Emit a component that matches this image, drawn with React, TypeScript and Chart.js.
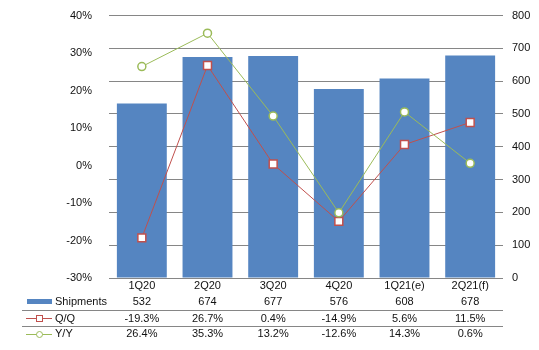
import React, { useEffect, useRef } from 'react';
import { Chart, registerables } from 'chart.js';

Chart.register(...registerables);

const categories = ['1Q20', '2Q20', '3Q20', '4Q20', '1Q21(e)', '2Q21(f)'];
const shipments = [532, 674, 677, 576, 608, 678];
const qoq = [-19.3, 26.7, 0.4, -14.9, 5.6, 11.5];
const yoy = [26.4, 35.3, 13.2, -12.6, 14.3, 0.6];
const shipmentLabels = ['532', '674', '677', '576', '608', '678'];
const qoqLabels = ['-19.3%', '26.7%', '0.4%', '-14.9%', '5.6%', '11.5%'];
const yoyLabels = ['26.4%', '35.3%', '13.2%', '-12.6%', '14.3%', '0.6%'];

const BLUE = '#5585C1';
const RED = '#C0504D';
const GREEN = '#9BBB59';
const GRID = '#868686';
const TEXT = '#111111';
const FONT = '11px "Liberation Sans", Arial, sans-serif';

const tablePlugin = {
  id: 'dataTable',
  afterDraw(chart: any) {
    const ctx = chart.ctx as CanvasRenderingContext2D;
    const x = chart.scales.x;
    ctx.save();
    ctx.font = FONT;
    ctx.fillStyle = TEXT;
    ctx.textBaseline = 'middle';
    ctx.textAlign = 'center';
    const rows: [string[], number][] = [
      [categories, 285.5],
      [shipmentLabels, 302],
      [qoqLabels, 318.5],
      [yoyLabels, 334],
    ];
    rows.forEach(([labels, y]) => {
      labels.forEach((t, i) => {
        ctx.fillText(t, x.getPixelForValue(i), y);
      });
    });
    // legend labels
    ctx.textAlign = 'left';
    ctx.fillText('Shipments', 55, 302);
    ctx.fillText('Q/Q', 55, 318.5);
    ctx.fillText('Y/Y', 55, 334);
    // separators
    ctx.strokeStyle = GRID;
    ctx.lineWidth = 1;
    [310.5, 326.5].forEach((y) => {
      ctx.beginPath();
      ctx.moveTo(22, y);
      ctx.lineTo(chart.chartArea.right, y);
      ctx.stroke();
    });
    // swatches
    ctx.fillStyle = BLUE;
    ctx.fillRect(27, 299, 25, 5);
    ctx.strokeStyle = RED;
    ctx.beginPath();
    ctx.moveTo(26, 318.5);
    ctx.lineTo(52, 318.5);
    ctx.stroke();
    ctx.fillStyle = '#ffffff';
    ctx.fillRect(36.5, 315.5, 6, 6);
    ctx.strokeRect(36.5, 315.5, 6, 6);
    ctx.strokeStyle = GREEN;
    ctx.beginPath();
    ctx.moveTo(26, 334.5);
    ctx.lineTo(52, 334.5);
    ctx.stroke();
    ctx.beginPath();
    ctx.arc(39.5, 334.5, 3, 0, Math.PI * 2);
    ctx.fill();
    ctx.stroke();
    ctx.restore();
  },
};

export default function App() {
  const ref = useRef<HTMLCanvasElement>(null);
  useEffect(() => {
    document.body.style.margin = '0';
    const canvas = ref.current!;
    const chart = new Chart(canvas, {
      type: 'bar',
      data: {
        labels: categories,
        datasets: [
          {
            type: 'line',
            label: 'Y/Y',
            data: yoy,
            yAxisID: 'y',
            borderColor: GREEN,
            borderWidth: 1,
            pointStyle: 'circle',
            pointRadius: 4,
            pointBorderWidth: 1.5,
            pointBackgroundColor: '#ffffff',
            pointBorderColor: GREEN,
            order: 0,
          } as any,
          {
            type: 'line',
            label: 'Q/Q',
            data: qoq,
            yAxisID: 'y',
            borderColor: RED,
            borderWidth: 1,
            pointStyle: 'rect',
            pointRadius: 5.6,
            pointBorderWidth: 1.5,
            pointBackgroundColor: '#ffffff',
            pointBorderColor: RED,
            order: 1,
          } as any,
          {
            type: 'bar',
            label: 'Shipments',
            data: shipments,
            yAxisID: 'y1',
            backgroundColor: BLUE,
            categoryPercentage: 1,
            barPercentage: 0.76,
            order: 2,
          },
        ],
      },
      options: {
        responsive: false,
        animation: false,
        layout: { padding: { top: 15, left: 0, right: 0, bottom: 0 } },
        plugins: {
          legend: { display: false },
          tooltip: { enabled: false },
        },
        scales: {
          x: {
            grid: { display: false },
            border: { display: false },
            ticks: { display: false },
            afterFit(scale: any) {
              scale.height = 72;
            },
          },
          y: {
            position: 'left',
            min: -30,
            max: 40,
            grid: { display: false },
            border: { display: false },
            ticks: {
              stepSize: 10,
              padding: 9,
              color: TEXT,
              font: { family: '"Liberation Sans", Arial, sans-serif', size: 11 },
              callback: (v: any) => `${v}%`,
            },
            afterFit(scale: any) {
              scale.width = 109;
            },
          },
          y1: {
            position: 'right',
            min: 0,
            max: 800,
            grid: { display: true, color: GRID, drawTicks: false, lineWidth: 1 },
            border: { display: false },
            ticks: {
              stepSize: 100,
              padding: 9,
              color: TEXT,
              font: { family: '"Liberation Sans", Arial, sans-serif', size: 11 },
            },
            afterFit(scale: any) {
              scale.width = 36;
            },
          },
        },
      },
      plugins: [tablePlugin],
    });
    return () => chart.destroy();
  }, []);
  return <canvas ref={ref} width={539} height={350} style={{ display: 'block' }} />;
}
